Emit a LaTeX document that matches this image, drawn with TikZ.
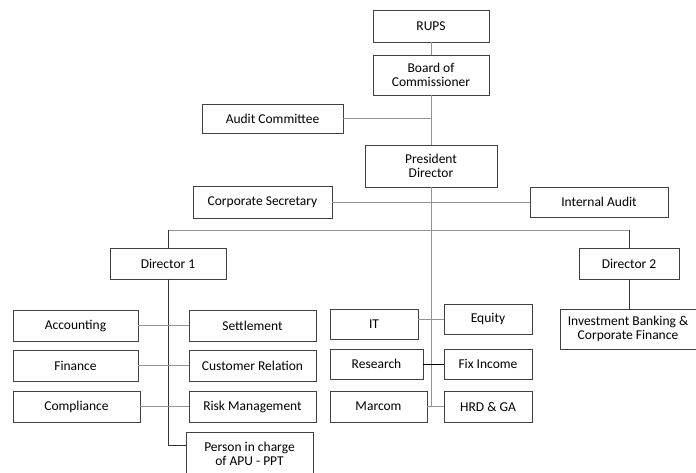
\documentclass[tikz,border=0pt]{standalone}
\usepackage{fontspec}
\setmainfont{Carlito}
\usetikzlibrary{arrows, positioning}
\usetikzlibrary{calc}

\begin{document}
\begin{tikzpicture}[auto, x=1pt, y=-1pt]
    \tikzstyle{block} = [rectangle, draw=black!75, line width=0.8pt,
        align=center, inner sep=1pt, minimum height=31pt,
        font=\fontsize{13.5}{14.5}\selectfont]
    \tikzstyle{line} = [draw, -, gray!85, line width=0.8pt]

    \useasboundingbox (0,0) rectangle (696,473);

    \node [block, minimum width=116pt, minimum height=32pt] (rups) at (431,26) {RUPS};
    \node [block, below of=rups, node distance=49pt, minimum width=116pt, minimum height=40pt] (boc) {Board of\\Commissioner};
    \coordinate [below of=boc, node distance=43.5pt] (acj);
    \node [block, left of=acj, node distance=158.5pt, minimum width=141pt, minimum height=29pt] (ac) {Audit Committee};
    \node [block, below of=boc, node distance=91pt, minimum width=132pt, minimum height=42pt] (pd) {President\\Director};
    \path [line] (rups) -- (boc);
    \path [line] (boc) -- (pd);
    \path [line] (ac) -- (acj);
    %
    \coordinate [below of=pd, node distance=36pt] (csj);
    \node [block, left of=csj, node distance=168.5pt, minimum width=139pt, minimum height=32pt] (cs) {Corporate Secretary};
    \node [block, right of=csj, node distance=168pt, minimum width=138pt, minimum height=30pt] (ia) {Internal Audit};
    \path [line] (cs) -- (ia);
    %
    \coordinate [below of=pd, node distance=64pt] (bus);
    \coordinate [left of=bus, node distance=263pt] (busl);
    \coordinate [right of=bus, node distance=198pt] (busr);
    \node [block, below of=busl, node distance=33.5pt, minimum width=116pt] (d1) {Director 1};
    \node [block, below of=busr, node distance=33.5pt, minimum width=100pt] (d2) {Director 2};
    \path [line] (busl) -- (busr);
    \path [line, black!80] (busl) -- (d1);
    \path [line, black!80] (busr) -- (d2);
    %
    \node [block, minimum width=127pt] (set) at (252.5,325.5) {Settlement};
    \node [block, left of=set, node distance=177pt, minimum width=125pt] (acc) {Accounting};
    \node [block, below of=set, node distance=40pt, minimum width=127pt] (cr) {Customer Relation};
    \node [block, left of=cr, node distance=177pt, minimum width=125pt] (fin) {Finance};
    \node [block, below of=cr, node distance=41pt, minimum width=127pt] (rm) {Risk Management};
    \node [block, left of=rm, node distance=176pt, minimum width=127pt] (comp) {Compliance};
    \node [block, minimum width=127pt, minimum height=44pt] (apu) at (249.5,454) {Person in charge\\of APU - PPT};
    \coordinate (apuj) at ([yshift=9pt]apu.west);
    \path [line, black!80] (d1) -- (d1 |- apuj) -- (apuj);
    \path [line] (acc) -- (set);
    \path [line] (fin) -- (cr);
    \path [line] (comp) -- (rm);
    %
    \node [block, minimum width=88pt, minimum height=30pt] (eq) at (488,319) {Equity};
    \node [block, minimum width=88pt, minimum height=30pt] (it) at (374,324) {IT};
    \node [block, minimum width=88pt, minimum height=30pt] (fix) at (488,364) {Fix Income};
    \node [block, left of=fix, node distance=111.5pt, minimum width=93pt, minimum height=30pt] (res) {Research};
    \node [block, minimum width=88pt] (hrd) at (488,406.5) {HRD \& GA};
    \node [block, left of=hrd, node distance=109.5pt, minimum width=97pt] (mar) {Marcom};
    \path [line] (pd) -- (pd |- hrd.west);
    \path [line] (eq.west) -- (eq.west -| it.east);
    \path [line, black] (res) -- (fix);
    \path [line] (mar) -- (hrd);
    %
    \node [block, below of=d2, node distance=65.5pt, xshift=-1pt, minimum width=136pt, minimum height=40pt] (ib) {Investment Banking \&\\Corporate Finance};
    \path [line, black!80] (d2) -- (d2 |- ib.north);

\end{tikzpicture}
\end{document}
